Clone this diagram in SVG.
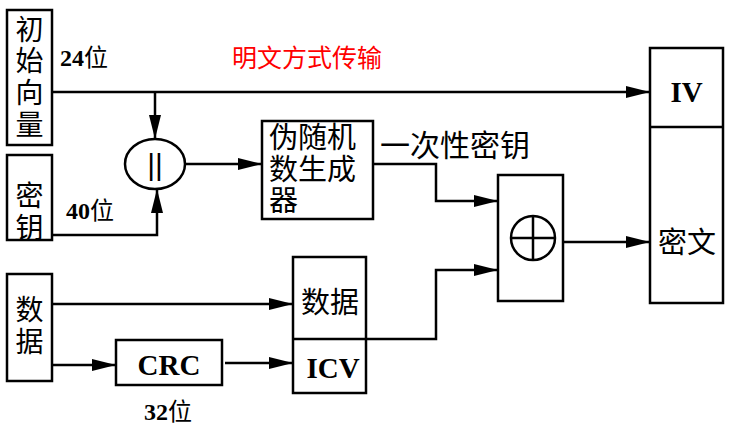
<svg xmlns="http://www.w3.org/2000/svg" width="737" height="438" viewBox="0 0 737 438">
<style>
.box{fill:#fff;stroke:#000;stroke-width:2.5}
.ln{fill:none;stroke:#000;stroke-width:2.5}
.cn{font-family:"Noto Sans CJK SC","Liberation Sans",sans-serif;fill:#000}
.bd{font-family:"Liberation Serif","Noto Sans CJK SC",serif;font-weight:bold;fill:#000}
</style>
<defs>
<marker id="ah" markerUnits="userSpaceOnUse" markerWidth="26" markerHeight="14" refX="24" refY="6" orient="auto">
<path d="M0,0 L24,6 L0,12 Z" fill="#000"/>
</marker>
</defs>
<g id="connectors">
<path class="ln" d="M52,92 H650" marker-end="url(#ah)"/>
<path class="ln" d="M155,92 V139" marker-end="url(#ah)"/>
<path class="ln" d="M52,235 H157 V189" marker-end="url(#ah)"/>
<path class="ln" d="M185,164 H262" marker-end="url(#ah)"/>
<path class="ln" d="M373,164 H436 V201 H498" marker-end="url(#ah)"/>
<path class="ln" d="M292,339 H436 V270 H498" marker-end="url(#ah)"/>
<path class="ln" d="M563,242 H650" marker-end="url(#ah)"/>
<path class="ln" d="M52,304 H293" marker-end="url(#ah)"/>
<path class="ln" d="M52,365 H116" marker-end="url(#ah)"/>
<path class="ln" d="M225,363 H293" marker-end="url(#ah)"/>
</g>
<g id="iv-src">
<rect class="box" x="7" y="10" width="45" height="135"/>
<text class="cn" font-size="28" x="29.5" y="40" text-anchor="middle">初</text>
<text class="cn" font-size="28" x="29.5" y="71" text-anchor="middle">始</text>
<text class="cn" font-size="28" x="29.5" y="103" text-anchor="middle">向</text>
<text class="cn" font-size="28" x="29.5" y="135" text-anchor="middle">量</text>
</g>
<g id="key-src">
<rect class="box" x="7" y="155" width="45" height="85"/>
<text class="cn" font-size="28" x="29.5" y="206" text-anchor="middle">密</text>
<text class="cn" font-size="28" x="29.5" y="238" text-anchor="middle">钥</text>
</g>
<g id="data-src">
<rect class="box" x="7" y="274" width="45" height="107"/>
<text class="cn" font-size="28" x="29.5" y="320" text-anchor="middle">数</text>
<text class="cn" font-size="28" x="29.5" y="352" text-anchor="middle">据</text>
</g>
<g id="concat">
<ellipse class="box" cx="155" cy="164" rx="30" ry="25"/>
<text font-family="Liberation Sans,sans-serif" font-size="30" x="155" y="175" text-anchor="middle">||</text>
</g>
<g id="prng">
<rect class="box" x="262" y="121" width="111" height="98"/>
<text class="cn" font-size="29" x="269" y="148">伪随机</text>
<text class="cn" font-size="29" x="269" y="180">数生成</text>
<text class="cn" font-size="29" x="269" y="211">器</text>
</g>
<g id="xor">
<rect class="box" x="498" y="175" width="65" height="126"/>
<circle class="ln" cx="533" cy="238" r="22"/>
<path class="ln" d="M511,238 H555 M533,216 V260" stroke-width="3"/>
</g>
<g id="output">
<rect class="box" x="650" y="48" width="73" height="255"/>
<line class="ln" x1="650" y1="127" x2="723" y2="127"/>
<text class="bd" font-size="29" x="686.5" y="102" text-anchor="middle">IV</text>
<text class="cn" font-size="29" x="687" y="253" text-anchor="middle">密文</text>
</g>
<g id="packet">
<rect class="box" x="293" y="257" width="73" height="136"/>
<line class="ln" x1="292" y1="339" x2="366" y2="339"/>
<text class="cn" font-size="29" x="330" y="313" text-anchor="middle">数据</text>
<text class="bd" font-size="29" x="333" y="378" text-anchor="middle">ICV</text>
</g>
<g id="crc">
<rect class="box" x="116" y="340" width="106" height="45"/>
<text class="bd" font-size="29" x="169" y="375" text-anchor="middle">CRC</text>
</g>
<g id="labels">
<text class="bd" font-size="24" x="60" y="66">24<tspan class="cn" font-weight="normal">位</tspan></text>
<text class="bd" font-size="24" x="66" y="219">40<tspan class="cn" font-weight="normal">位</tspan></text>
<text class="bd" font-size="24" x="144" y="420">32<tspan class="cn" font-weight="normal">位</tspan></text>
<text class="cn" font-size="25" x="232" y="67" fill="#ff0000" style="fill:#ff0000">明文方式传输</text>
<text class="cn" font-size="30" x="380" y="156">一次性密钥</text>
</g>
</svg>
